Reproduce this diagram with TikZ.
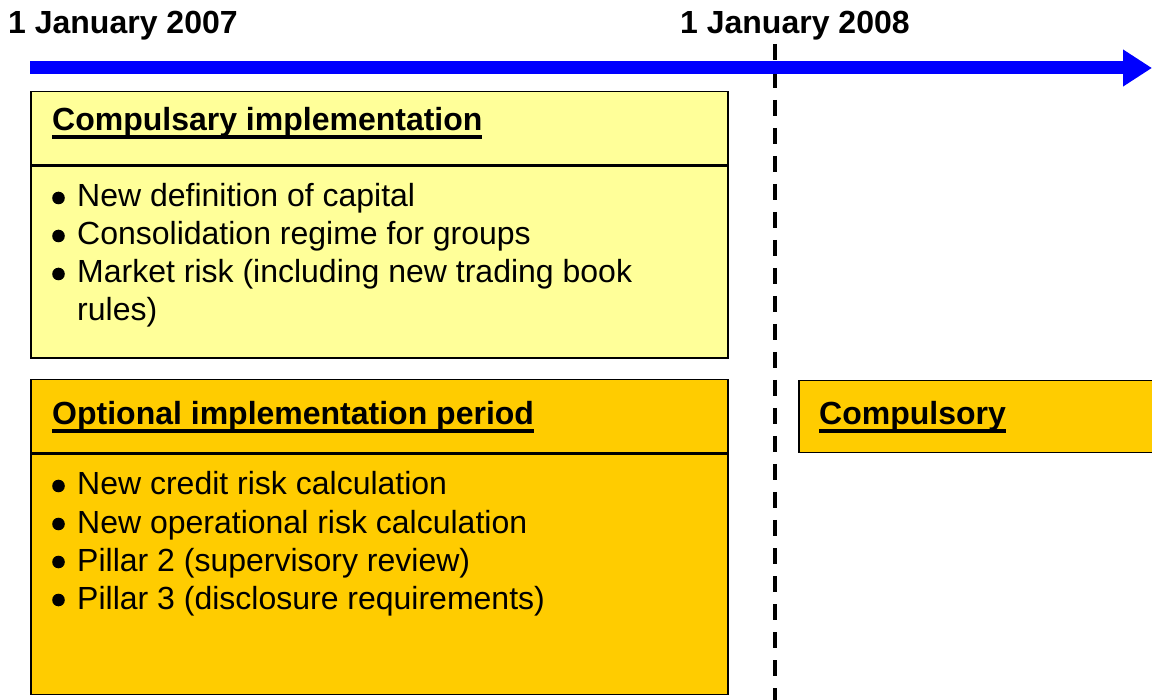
\documentclass[tikz,border=0pt]{standalone}
\usepackage{fontspec}
\setmainfont{Liberation Sans}
\usetikzlibrary{positioning,arrows.meta}

\definecolor{paleyellow}{HTML}{FFFF99}
\definecolor{gold}{HTML}{FFCC00}
\definecolor{lineblue}{HTML}{0000FF}

% thick underline sitting just below the baseline
\newcommand\ulbar[1]{\setbox0\hbox{#1}\rlap{\rule[-8pt]{\wd0}{3.5pt}}\box0}

\begin{document}
\begin{tikzpicture}[x=1pt, y=-1pt,
  every node/.style={inner sep=0pt, font=\fontsize{32}{38}\selectfont},
  dateL/.style={anchor=base west, font=\fontsize{32}{38}\selectfont\bfseries},
  titleL/.style={anchor=base west, font=\fontsize{32}{38}\selectfont\bfseries},
  itemL/.style={anchor=base west},
  dotB/.style={fill=black},
  boxN/.style={draw, line width=1.5pt, anchor=north west, minimum width=697pt},
  timeline/.style={line width=13pt, lineblue, -{Triangle[length=29pt, width=35pt]}},
  cutline/.style={line width=3.5pt, dash pattern=on 16pt off 12pt}
]
\useasboundingbox (0,0) rectangle (1152,700);
\clip (0,0) rectangle (1152,700);
% Dates
\node[dateL] (d2007) at (8,34) {1 January 2007};
\node[dateL] (d2008) at (680,34) {1 January 2008};
% Cut-off line and time axis
\coordinate (cut-top) at (775,44);
\coordinate (cut-bot) at (775,700);
\draw[cutline] (cut-top) -- (cut-bot);
\coordinate (tl-start) at (30,68);
\coordinate (tl-end) at (1152,68);
\draw[timeline] (tl-start) -- (tl-end);
% Compulsary box
\node[boxN, fill=paleyellow, minimum height=73pt] (comp-head) at (30,91) {};
\node[boxN, fill=paleyellow, minimum height=192pt] (comp-body) at (comp-head.south west) {};
\node[titleL] (comp-title) at (52,131) {\ulbar{Compulsary implementation}};
\foreach \txt [count=\i from 0] in {New definition of capital, Consolidation regime for groups, Market risk (including new trading book}{
  \fill[dotB] (58.5,198+38*\i) circle (6.3pt);
  \node[itemL] (comp-item\i) at (77,207+38*\i) {\txt};
}
\node[itemL] (comp-rest) at (77,321) {rules)};
% Optional box
\node[boxN, fill=gold, minimum height=73pt] (opt-head) at (30,379) {};
\node[boxN, fill=gold, minimum height=240pt] (opt-body) at (opt-head.south west) {};
\node[titleL] (opt-title) at (52,425) {\ulbar{Optional implementation period}};
\foreach \txt [count=\i from 0] in {New credit risk calculation, New operational risk calculation, Pillar 2 (supervisory review), Pillar 3 (disclosure requirements)}{
  \fill[dotB] (58.5,486+38*\i) circle (6.3pt);
  \node[itemL] (opt-item\i) at (77,495+38*\i) {\txt};
}
% After the cut-off
\node[boxN, fill=gold, minimum width=380pt, minimum height=72pt] (mand-head) at (798,380) {};
\node[titleL] (mand-title) at (819,425) {\ulbar{Compulsory}};
\end{tikzpicture}
\end{document}
